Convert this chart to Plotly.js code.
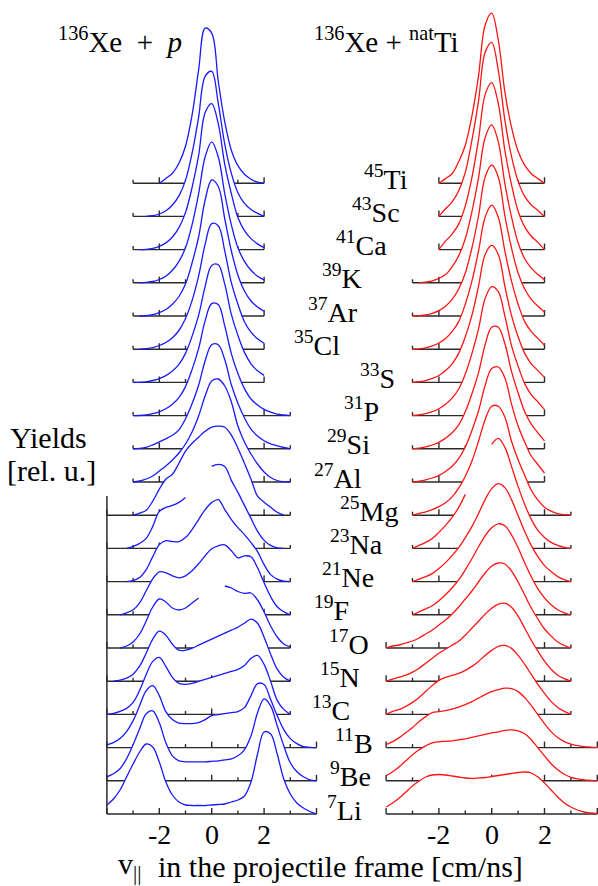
<!DOCTYPE html>
<html><head><meta charset="utf-8">
<script src="https://cdn.plot.ly/plotly-3.0.1.min.js"></script>
<style>html,body{margin:0;padding:0;background:#fff}#chart{width:598px;height:886px}</style>
</head><body><div id="chart"></div>
<script>
const n = null;
// velocity grid [cm/ns]
const V = [-4,-3.75,-3.5,-3.25,-3,-2.75,-2.5,-2.25,-2,-1.75,-1.5,-1.25,-1,-0.75,-0.5,-0.25,0,0.25,0.5,0.75,1,1.25,1.5,1.75,2,2.25,2.5,2.75,3,3.25,3.5,3.75,4];
const masses   = [45,43,41,39,37,35,33,31,29,27,25,23,21,19,17,15,13,11,9,7];
const elements = ["Ti","Sc","Ca","K","Ar","Cl","S","P","Si","Al","Mg","Na","Ne","F","O","N","C","B","Be","Li"];
const tickVals = [-2,0,2];
const tickText = ["-2","0","2"];

// 136Xe + p  (yields, rel. u.)
const p45Ti = [n,n,n,n,n,n,n,n,0,4.8,10,20,37,68,113,155,150,102,61,33,17.5,9,4,1,0,n,n,n,n,n,n,n,n];
const p43Sc = [n,n,n,n,n,n,0,0.7,2.4,5.6,11.4,20.5,36,63,99,140,145,113,72,43,23.7,13,6.8,3,0,n,n,n,n,n,n,n,n];
const p41Ca = [n,n,n,n,n,0,0.3,1.2,3.3,6.7,12.6,22,37,62,94,137,146,126,85,56,32,19,11,5.7,2,n,n,n,n,n,n,n,n];
const p39K  = [n,n,n,n,n,0,0.5,1.3,3.3,6.6,12.5,21.5,35,58,89,126,141,126,89,58,35,21.5,12.5,6.6,3,n,n,n,n,n,n,n,n];
const p37Ar = [n,n,n,n,n,0,0.3,1.3,3.4,6.5,11.8,19.5,32,53,79,116,136,129.5,97,65,41,25,15,9,4.8,n,n,n,n,n,n,n,n];
const p35Cl = [n,n,n,n,n,0,0.5,1.5,3.7,6.7,11.5,18.7,30.7,48.6,73,105,125.5,123.5,98,66.5,45,27.5,17,10.4,5.9,n,n,n,n,n,n,n,n];
const p33S  = [n,n,n,n,0,0,0.6,1.9,3.8,6.8,11.4,18,29,46,67,96,117,117.6,98,68,47,30,18.6,11.6,7,n,n,n,n,n,n,n,n];
const p31P  = [n,n,n,n,0,0.1,0.7,1.9,3.8,6.8,11.4,18,29,46,67,95,112,111,89.5,62,42,27,16.6,10.6,6.2,3.5,1.5,0.6,0,n,n,n,n];
const p29Si = [n,n,n,n,0,0.4,1.5,4,7,10,13.5,19,30,45,63.6,88,104,104,89,64,45.6,31,19.6,12.7,8,4.9,2.9,1.3,0,n,n,n,n];
const p27Al = [n,n,n,n,0,1,3,6,11,16,22,29,38,50,66,86,101,103,96,80,56,40,28,18,10,4.5,1.5,0.3,0,n,n,n,n];
const p25Mg = [n,n,n,n,0,2,5,14,26,36,41,52,64,72,78,84,88,89,88,80,67,52,36,19,13,8,3,0,n,n,n,n,n];
const p23Na = [n,n,n,0,2,5,10,22,37,41,43,46,51,n,n,n,82,84,82,68,56,43,30,17,8,3,0.5,0,n,n,n,n,n];
const p21Ne = [n,n,n,0,1,4,12,25,37,41,40,40,44,52,62,72,79,82,72,62,54,47,39,30,17,7,2.5,0.5,0,n,n,n,n];
const p19F  = [n,n,0,2,5,12,24,36,43,42,39,37,39,44,51,59,66,69,70,64,57,59,58,47,32,18,8,3,0,n,n,n,n];
const p17O  = [n,n,0,2,6,14,27,41,49,46,40,38,40,45,50,n,n,n,62,60,56.5,54.7,55,48,36,22,11,4,1,n,n,n,n];
const p15N  = [n,0,1,3,7,15,28,42,50,46,37,31,31,33,36,39,42,45,48,51,54,58,62,58,44,27,12,4,0,n,n,n,n];
const p13C  = [0,1,3,6,12,24,40,53,57,48,37,31,30,31,33,35,37,39,41,43,45,49,56,59,50,33,14,5,0,n,n,n,n];
const p11B  = [2.7,5,9,16,27,42,57,62,52,36,28,24.5,24,24,25,28,32,33,34,35,36,40,52,64,63,48,32,18,9,4,1,0.3,0];
const p9Be  = [4,7,12,22,36,52,67,70,58,38,25,20,19,19,19,19,19.5,20,21,22,25,31,45,68,82,75,55,35,18,9,4,1,0];
const p7Li  = [9,15,24,37,50,62,70,67,52,32,19,12,9,8.5,8.5,8.5,9,9.5,10,12,14,18,32,60,82,80,60,35,20,11,6,2.5,0];

// 136Xe + natTi  (yields, rel. u.)
const t45Ti = [n,n,n,n,n,n,n,n,0,4.6,9.5,21.5,38,67,107,158,170,143,91,56,32,18,9.5,4.6,0,n,n,n,n,n,n,n,n];
const t43Sc = [n,n,n,n,n,n,n,n,0,7.6,14.6,25.7,44,76,115,164,174,146,96,60,35,20,11.4,6,0,n,n,n,n,n,n,n,n];
const t41Ca = [n,n,n,n,n,n,n,n,0,8.4,15.5,25.5,43.7,72,110,155,167,146,99,65,38.6,22.7,13.4,7.2,0,n,n,n,n,n,n,n,n];
const t39K  = [n,n,n,n,n,0,0.6,2,4.4,8.2,16,27,44,71,105,145,158,141,99,66,40,24,14.7,8.2,3,n,n,n,n,n,n,n,n];
const t37Ar = [n,n,n,n,0,0.3,1,2.7,5.4,9.8,16.6,27,43,68,100,139,151,139,100,68,43,27,16.6,9.8,4,n,n,n,n,n,n,n,n];
const t35Cl = [n,n,n,n,0,0.4,1.4,3.3,6.2,10.8,17.6,27.6,45,68,98,132,144,132,98,68,45,27.6,17.6,10.8,4,n,n,n,n,n,n,n,n];
const t33S  = [n,n,n,n,0,0.7,1.8,4,6.9,11.8,18.6,29,45.6,67,96,128,137,128,96,67,45.6,29,18.6,11.8,5,n,n,n,n,n,n,n,n];
const t31P  = [n,n,n,n,0,0.8,2,4,6.9,11.4,17.5,26.6,41.6,62,86.5,117,129,124,99.5,70,49.5,32,20.8,13.7,6,n,n,n,n,n,n,n,n];
const t29Si = [n,n,n,n,0,0.7,2,3.8,6.4,10.7,16,24,37,55,76,104,121.5,121.5,105,77.5,56,37,24.6,16,8,n,n,n,n,n,n,n,n];
const t27Al = [n,n,n,n,0,0.9,2.2,4,6.7,10.5,15.8,23.4,35,51.5,71,96.5,113.5,115,104,78,56,40,26,17.5,9,n,n,n,n,n,n,n,n];
const t25Mg = [n,n,n,n,0,1.8,3.4,5.5,8.5,12.4,18.3,27,39,54,74,95.5,109,109,98,74,55.5,40,25,15,8,4,1.5,0.5,0,n,n,n,n];
const t23Na = [n,n,n,n,0,3,6,10,16,23,31,41,54,n,n,n,104,110,101,82,62,44,29,18,11,6,3,1,0,n,n,n,n];
const t21Ne = [n,n,n,n,0,2.5,5,8,13,19,26,34,44,55,68,82,93,98,94,82,66,50,36,25,16,10,5,2,0,n,n,n,n];
const t19F  = [n,n,n,n,0,3,6,9,14,20,27,35,45,56,68,79,87,91,89,80,67,52,38,26,17,10,5,2,0,n,n,n,n];
const t17O  = [0,2,3,5,7,10,14,18,23,28,34,41,49,57,66,75,82,85,84,77,66,53,40,29,19,12,6,2.5,0,n,n,n,n];
const t15N  = [0,2,4,6,9,13,18,23,28,32,36,40,46,53,60,67,73,77,78,74,65,53,41,30,20,12,6,2.5,0,n,n,n,n];
const t13C  = [0,3,5,8,12,17,23,29,34,37,39,41,44,48,53,59,64,68,69,66,59,50,40,30,21,13,7,3,0,n,n,n,n];
const t11B  = [3,6,10,15,20,26,31,35,36,37,38.5,40.5,43,46,49.5,53,56,58,59.4,59,56,50,42,33,24,16,10,6,3.5,2,1,0.5,0];
const t9Be  = [5,9,14,20,26,31,35,38,39,39.5,40,41,42,43.5,45,46.5,48,49,50.5,51,50,47,41,33,25,17,11,6.5,3.5,2,1,0.5,0];
const t7Li  = [7,11,16,22,28,33,37,39,39.5,39,38,37,36,35.7,36,36.5,37.5,38.5,39.5,40.5,41.5,42,41,37,31,24,17,11,7,4,2,1,0.3];

// baseline extents of each row [cm/ns]
const pFrom = [-3,-3,-3,-3,-3,-3,-3,-3,-3,-3,-4,-4,-4,-4,-4,-4,-4,-4,-4,-4];
const pTo   = [2,2,2,2,2,2,2,3,3,3,3,3,3,3,3,3,3,4,4,4];
const tFrom = [-2,-2,-2,-3,-3,-3,-3,-3,-3,-3,-3,-3,-3,-3,-4,-4,-4,-4,-4,-4];
const tTo   = [2,2,2,2,2,2,2,2,2,2,3,3,3,3,3,3,3,4,4,4];

const protonSeries = [p45Ti,p43Sc,p41Ca,p39K,p37Ar,p35Cl,p33S,p31P,p29Si,p27Al,p25Mg,p23Na,p21Ne,p19F,p17O,p15N,p13C,p11B,p9Be,p7Li];
const titanSeries  = [t45Ti,t43Sc,t41Ca,t39K,t37Ar,t35Cl,t33S,t31P,t29Si,t27Al,t25Mg,t23Na,t21Ne,t19F,t17O,t15N,t13C,t11B,t9Be,t7Li];

// ---- styling / layout constants ----
const W = 598, H = 886;
const SPACING = 33.2;     // vertical offset between rows (y units == px)
const MAJOR = 6, MINOR = 3.5;
const AXIS_TOP = 318;     // top of left "Yields" axis line
const FONT = "Liberation Serif, Times New Roman, serif";
const BLUE = "rgb(25,25,255)", RED = "rgb(255,20,20)", AXC = "#2a2a2a";
const labelLeft = [362,350,334,320,306,292,358,342,325,312,338,328,320,312,327,318,310,333,328,325];
const ESP = "\u2002";

function panel(series, from, to, color, xa) {
  const tr = [];
  const N = series.length;
  series.forEach((vals, k) => {
    const base = (N - 1 - k) * SPACING;
    const idx = [];
    vals.forEach((v, i) => { if (v !== null) idx.push(i); });
    const fx = idx.map(i => V[i]), fy = idx.map(i => base + vals[i]);
    fx.push(V[idx[idx.length - 1]], V[idx[0]]);
    fy.push(base, base);
    tr.push({type:'scatter', mode:'lines', x:fx, y:fy, xaxis:xa, yaxis:'y',
      fill:'toself', fillcolor:'#ffffff', line:{width:0, shape:'spline', smoothing:1},
      hoverinfo:'skip', showlegend:false});
    const bx = [from[k], to[k], null], by = [base, base, null];
    for (let t = from[k]; t <= to[k]; t++) {
      const len = (t % 2 === 0) ? MAJOR : MINOR;
      bx.push(t, t, null); by.push(base, base + len, null);
    }
    tr.push({type:'scatter', mode:'lines', x:bx, y:by, xaxis:xa, yaxis:'y',
      line:{color:AXC, width:1.4}, hoverinfo:'skip', showlegend:false});
    tr.push({type:'scatter', mode:'lines', x:V, y:vals.map(v => v === null ? null : base + v),
      xaxis:xa, yaxis:'y', connectgaps:false,
      line:{color:color, width:1.3, shape:'spline', smoothing:1}, hoverinfo:'skip', showlegend:false});
  });
  return tr;
}

const traces = [].concat(
  panel(protonSeries, pFrom, pTo, BLUE, 'x'),
  [{type:'scatter', mode:'lines', x:[-4,-4], y:[0, AXIS_TOP], xaxis:'x', yaxis:'y',
    line:{color:AXC, width:1.5}, hoverinfo:'skip', showlegend:false}],
  panel(titanSeries, tFrom, tTo, RED, 'x2')
);

const ann = [];
const px = x => x / W;
const py = y => 1 - y / H;
const txt = (x, y, text, size, anchor) => ({xref:'paper', yref:'paper', x:px(x), y:py(y), text:text,
  showarrow:false, font:{family:FONT, size:size, color:'#000'}, xanchor:anchor || 'center', yanchor:'middle'});
ann.push(txt(120, 40, '<sup>136</sup>Xe' + ESP + '+' + ESP + '<i>p</i>', 29));
ann.push(txt(386, 40, '<sup>136</sup>Xe + <sup>nat</sup>Ti', 29));
masses.forEach((m, k) => {
  ann.push({xref:'paper', yref:'y', x:px(labelLeft[k]), y:(masses.length - 1 - k) * SPACING + 6,
    text:'<sup>' + m + '</sup>' + elements[k], showarrow:false,
    font:{family:FONT, size:28, color:'#000'}, xanchor:'left', yanchor:'middle'});
});
['x','x2'].forEach(xa => {
  tickVals.forEach((tv, i) => {
    ann.push({xref:xa, yref:'y', x:tv, y:-20, text:tickText[i], showarrow:false,
      font:{family:FONT, size:28, color:'#000'}, xanchor:'center', yanchor:'middle'});
  });
});
ann.push(txt(129, 866, 'v<sub>||</sub>', 30));
ann.push(txt(156, 866, 'in the projectile frame [cm/ns]', 30, 'left'));
ann.push(txt(48, 437, 'Yields', 30));
ann.push(txt(51, 470, '[rel. u.]', 30));

const layout = {
  width:W, height:H, margin:{l:0, r:0, t:0, b:0},
  paper_bgcolor:'#fff', plot_bgcolor:'#fff', showlegend:false,
  xaxis:{range:[-211.7/26.2, (W - 211.7)/26.2], visible:false, fixedrange:true},
  xaxis2:{range:[-491.7/26.4, (W - 491.7)/26.4], overlaying:'x', visible:false, fixedrange:true},
  yaxis:{range:[814 - H, 814], visible:false, fixedrange:true},
  annotations:ann
};
Plotly.newPlot('chart', traces, layout, {staticPlot:true, displayModeBar:false});
</script></body></html>
